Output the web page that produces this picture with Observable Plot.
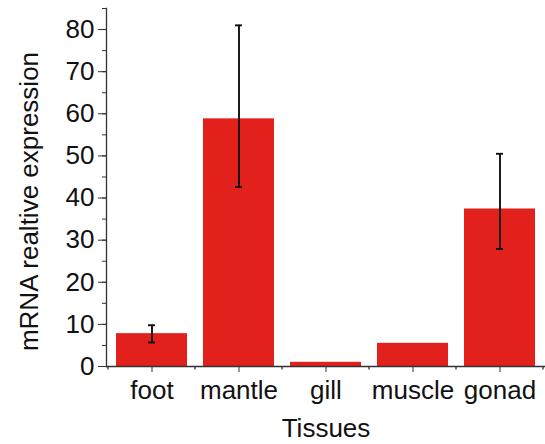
<!DOCTYPE html>
<html><head><meta charset="utf-8">
<script src="https://cdn.jsdelivr.net/npm/d3@7"></script>
<script src="https://cdn.jsdelivr.net/npm/@observablehq/plot@0.6"></script>
<style>body{margin:0;background:#fff;font-family:"Liberation Sans",Arial,sans-serif}</style>
</head><body><div id="chart"></div>
<script>
const tissues = ["foot", "mantle", "gill", "muscle", "gonad"];
const means = [7.8, 58.8, 1.0, 5.5, 37.4];
const errLow = [5.7, 42.6, null, null, 27.9];
const errHigh = [9.8, 81.0, null, null, 50.5];
const yTicks = [0, 10, 20, 30, 40, 50, 60, 70, 80];
const yMinorTicks = [0, 5, 10, 15, 20, 25, 30, 35, 40, 45, 50, 55, 60, 65, 70, 75, 80, 85];
const yLabel = "mRNA realtive expression";
const xLabel = "Tissues";

const data = tissues.map((t, i) => ({tissue: t, mean: means[i], lo: errLow[i], hi: errHigh[i]}));
const errs = data.filter(d => d.lo != null);

// minor x ticks at band boundaries, derived from the band scale
function xMinorTicks(index, scales, values, dims) {
  const x = scales.x;
  const bw = x.bandwidth ? x.bandwidth() : 0;
  const step = x.step ? x.step() : bw;
  const half = (step - bw) / 2;
  const y0 = scales.y(0);
  const g = d3.create("svg:g").attr("stroke", "#333").attr("stroke-width", 1.3);
  const xs = tissues.map(t => x(t) - half);
  xs.push(x(tissues[tissues.length - 1]) + bw + half);
  for (const xx of xs) g.append("line").attr("x1", xx).attr("x2", xx).attr("y1", y0).attr("y2", y0 + 3.5);
  return g.node();
}

const chart = Plot.plot({
  width: 545, height: 444,
  marginLeft: 106, marginRight: 0, marginTop: 8, marginBottom: 78,
  style: {fontFamily: "Liberation Sans, Arial, sans-serif", fontSize: "26px", color: "#111", background: "white"},
  x: {domain: tissues, paddingInner: 0.18, paddingOuter: 0.09, label: null},
  y: {domain: [0, 85], label: null},
  marks: [
    Plot.barY(data, {x: "tissue", y: "mean", fill: "#e2211c"}),
    Plot.ruleX(errs, {x: "tissue", y1: "lo", y2: "hi", stroke: "#111", strokeWidth: 1.9}),
    Plot.tickY(errs, {x: "tissue", y: "hi", stroke: "#111", strokeWidth: 1.9, insetLeft: 32, insetRight: 32}),
    Plot.tickY(errs, {x: "tissue", y: "lo", stroke: "#111", strokeWidth: 1.9, insetLeft: 32, insetRight: 32}),
    Plot.ruleY([0], {stroke: "#333", strokeWidth: 1.3}),
    Plot.frame({anchor: "left", stroke: "#333", strokeWidth: 1.3}),
    Plot.axisY(yMinorTicks, {tickSize: 4, text: null, stroke: "#333", label: null}),
    Plot.axisY(yTicks, {tickSize: 8, tickPadding: 4, fontSize: 26, stroke: "#333", label: null}),
    Plot.axisX({tickSize: 6, tickPadding: 8, fontSize: 26, stroke: "#333", label: null}),
    xMinorTicks,
    Plot.text([yLabel], {frameAnchor: "left", textAnchor: "middle", lineAnchor: "middle", rotate: -90, dx: -77, dy: 14, fontSize: 26, fill: "#111"}),
    Plot.text([xLabel], {frameAnchor: "bottom", textAnchor: "middle", lineAnchor: "middle", dy: 62, fontSize: 26, fill: "#111"})
  ]
});
document.getElementById("chart").appendChild(chart);
</script>
</body></html>
